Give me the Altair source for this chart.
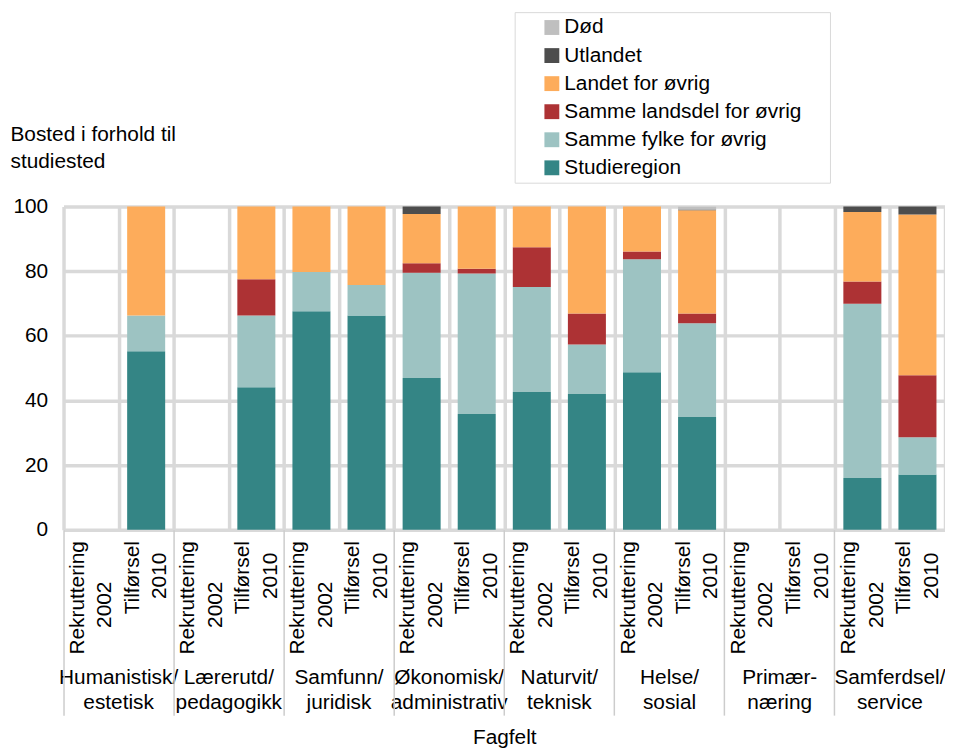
import altair as alt
import pandas as pd

# ---- data ----
groups = [("Humanistisk/", "estetisk"), ("Lærerutd/", "pedagogikk"), ("Samfunn/", "juridisk"),
          ("Økonomisk/", "administrativ"), ("Naturvit/", "teknisk"), ("Helse/", "sosial"),
          ("Primær-", "næring"), ("Samferdsel/", "service")]
bar_types = [("Rekruttering", "2002"), ("Tilførsel", "2010")]

categories = ["Studieregion", "Samme fylke for øvrig", "Samme landsdel for øvrig",
              "Landet for øvrig", "Utlandet", "Død"]
colors = ["#348585", "#9dc3c2", "#ad3234", "#fdac5b", "#4d4d4d", "#bfbfbf"]

studieregion   = [None, 55.2, None, 44.1, 67.6, 66.3, 46.9, 35.8, 42.6, 42.0, 48.7, 34.9, None, None, 16.0, 17.1]
samme_fylke    = [None, 11.1, None, 22.2, 12.1, 9.4, 32.6, 43.5, 32.5, 15.3, 35.0, 29.0, None, None, 53.9, 11.5]
samme_landsdel = [None, 0.0, None, 11.2, 0.0, 0.0, 2.9, 1.4, 12.3, 9.6, 2.4, 3.0, None, None, 6.9, 19.2]
landet         = [None, 33.7, None, 22.5, 20.3, 24.3, 15.3, 19.3, 12.6, 33.1, 13.9, 31.9, None, None, 21.5, 49.7]
utlandet       = [None, 0.0, None, 0.0, 0.0, 0.0, 2.3, 0.0, 0.0, 0.0, 0.0, 0.3, None, None, 1.7, 2.5]
dod            = [None, 0.0, None, 0.0, 0.0, 0.0, 0.0, 0.0, 0.0, 0.0, 0.0, 0.8, None, None, 0.0, 0.0]

series = [studieregion, samme_fylke, samme_landsdel, landet, utlandet, dod]

keys = [f"{g[0]}~{g[1]}#{b[0]}~{b[1]}" for g in groups for b in bar_types]
rek_keys = [k for k in keys if "#Rekruttering" in k]
tilf_keys = [k for k in keys if "#Tilførsel" in k]

rows = []
for ci, (cat, vals) in enumerate(zip(categories, series)):
    for k, v in zip(keys, vals):
        if v is not None and v > 0:
            rows.append({"key": k, "kategori": cat, "value": v, "rank": ci})
df = pd.DataFrame(rows)
df_keys = pd.DataFrame({"key": keys})

# ---- layout ----
W, H = 889, 326
step = W / len(keys)
FONT = "Liberation Sans"
FS = 21
GRID = "#d9d9d9"
NB = "\u00a0"
ZW = "\u200b"

x_scale = alt.Scale(domain=keys, paddingInner=0, paddingOuter=0)

inner_expr = ("isString(datum.value) ? [split(split(datum.value,'#')[1],'~')[0], "
              "split(split(datum.value,'#')[1],'~')[1] + "
              f"(indexof(datum.value,'#Rekr') >= 0 ? '{NB * 7}{ZW}' : '{NB * 2}{ZW}')] : ''")
group_expr = "isString(datum.value) ? split(split(datum.value,'#')[0],'~') : ''"

bars = alt.Chart(df).mark_bar(width={"band": 0.69}).encode(
    x=alt.X("key:N", scale=x_scale, axis=alt.Axis(
        orient="bottom", title=None, labelExpr=inner_expr, labelAngle=270,
        labelAlign="right", labelBaseline="middle", labelPadding=11, labelOffset=-14,
        labelFontSize=FS, labelLineHeight=28, labelOverlap=False, labelColor="#000000",
        labelFont=FONT, ticks=False, tickSize=0, domain=False, grid=True,
        gridColor=GRID, gridWidth=3.5, tickBand="extent")),
    y=alt.Y("value:Q", stack="zero", scale=alt.Scale(domain=[0, 100], nice=False),
            axis=alt.Axis(values=[0, 20, 40, 60, 80, 100],
                          title=["Bosted i forhold til", "studiested"],
                          titleAngle=0, titleAlign="left", titleBaseline="alphabetic",
                          titleX=-54, titleY=-67, titleFontSize=FS, titleFontWeight="normal",
                          titleLineHeight=28, titleFont=FONT, titleColor="#000000",
                          labelFontSize=FS, labelPadding=16, labelFont=FONT, labelColor="#000000",
                          ticks=False, tickSize=0, domain=False, grid=True,
                          gridColor=GRID, gridWidth=3.5)),
    color=alt.Color("kategori:N",
                    scale=alt.Scale(domain=categories[::-1], range=colors[::-1]),
                    legend=alt.Legend(title=None, orient="none", legendX=455, legendY=-196,
                                      direction="vertical", symbolType="square",
                                      symbolSize=225, symbolStrokeWidth=0, symbolOffset=22,
                                      labelOffset=2, labelFontSize=FS, labelFont=FONT,
                                      labelColor="#000000", rowPadding=6.3, padding=5,
                                      strokeColor=GRID, fillColor="#ffffff",
                                      labelExpr=f"datum.label + '{NB * 4}{ZW}'", labelLimit=400)),
    order=alt.Order("rank:Q", sort="ascending"),
)

group_axis = alt.Chart(df_keys).mark_tick(opacity=0).encode(
    x=alt.X("key:N", scale=x_scale, axis=alt.Axis(
        orient="bottom", values=tilf_keys, labelExpr=group_expr, labelAngle=0,
        labelAlign="center", labelBaseline="top", labelPadding=138, labelOffset=-step / 2,
        labelFontSize=FS, labelLineHeight=25, labelOverlap=False, labelFont=FONT,
        labelColor="#000000", ticks=False, tickSize=0, domain=False, grid=False,
        title="Fagfelt", titleFontSize=FS, titleFontWeight="normal", titleFont=FONT,
        titleColor="#000000", titleX=W / 2, titleY=216, titleAlign="center",
        titleBaseline="alphabetic")),
)

sep_axis = alt.Chart(df_keys).mark_tick(opacity=0).encode(
    x=alt.X("key:N", scale=x_scale, axis=alt.Axis(
        orient="bottom", values=rek_keys, bandPosition=0, labels=False, ticks=True,
        tickSize=187, tickColor="#cccccc", tickWidth=1.5, domain=False, grid=False,
        title=None)),
)

chart = alt.layer(bars, group_axis, sep_axis).resolve_axis(x="independent").properties(
    width=W, height=H,
    padding={"left": 2, "top": 0, "right": 0, "bottom": 0},
).configure_view(stroke="transparent").configure_legend(strokeWidth=2).configure(font=FONT)

chart.save("out.html", embed_options={"renderer": "svg", "actions": False})
